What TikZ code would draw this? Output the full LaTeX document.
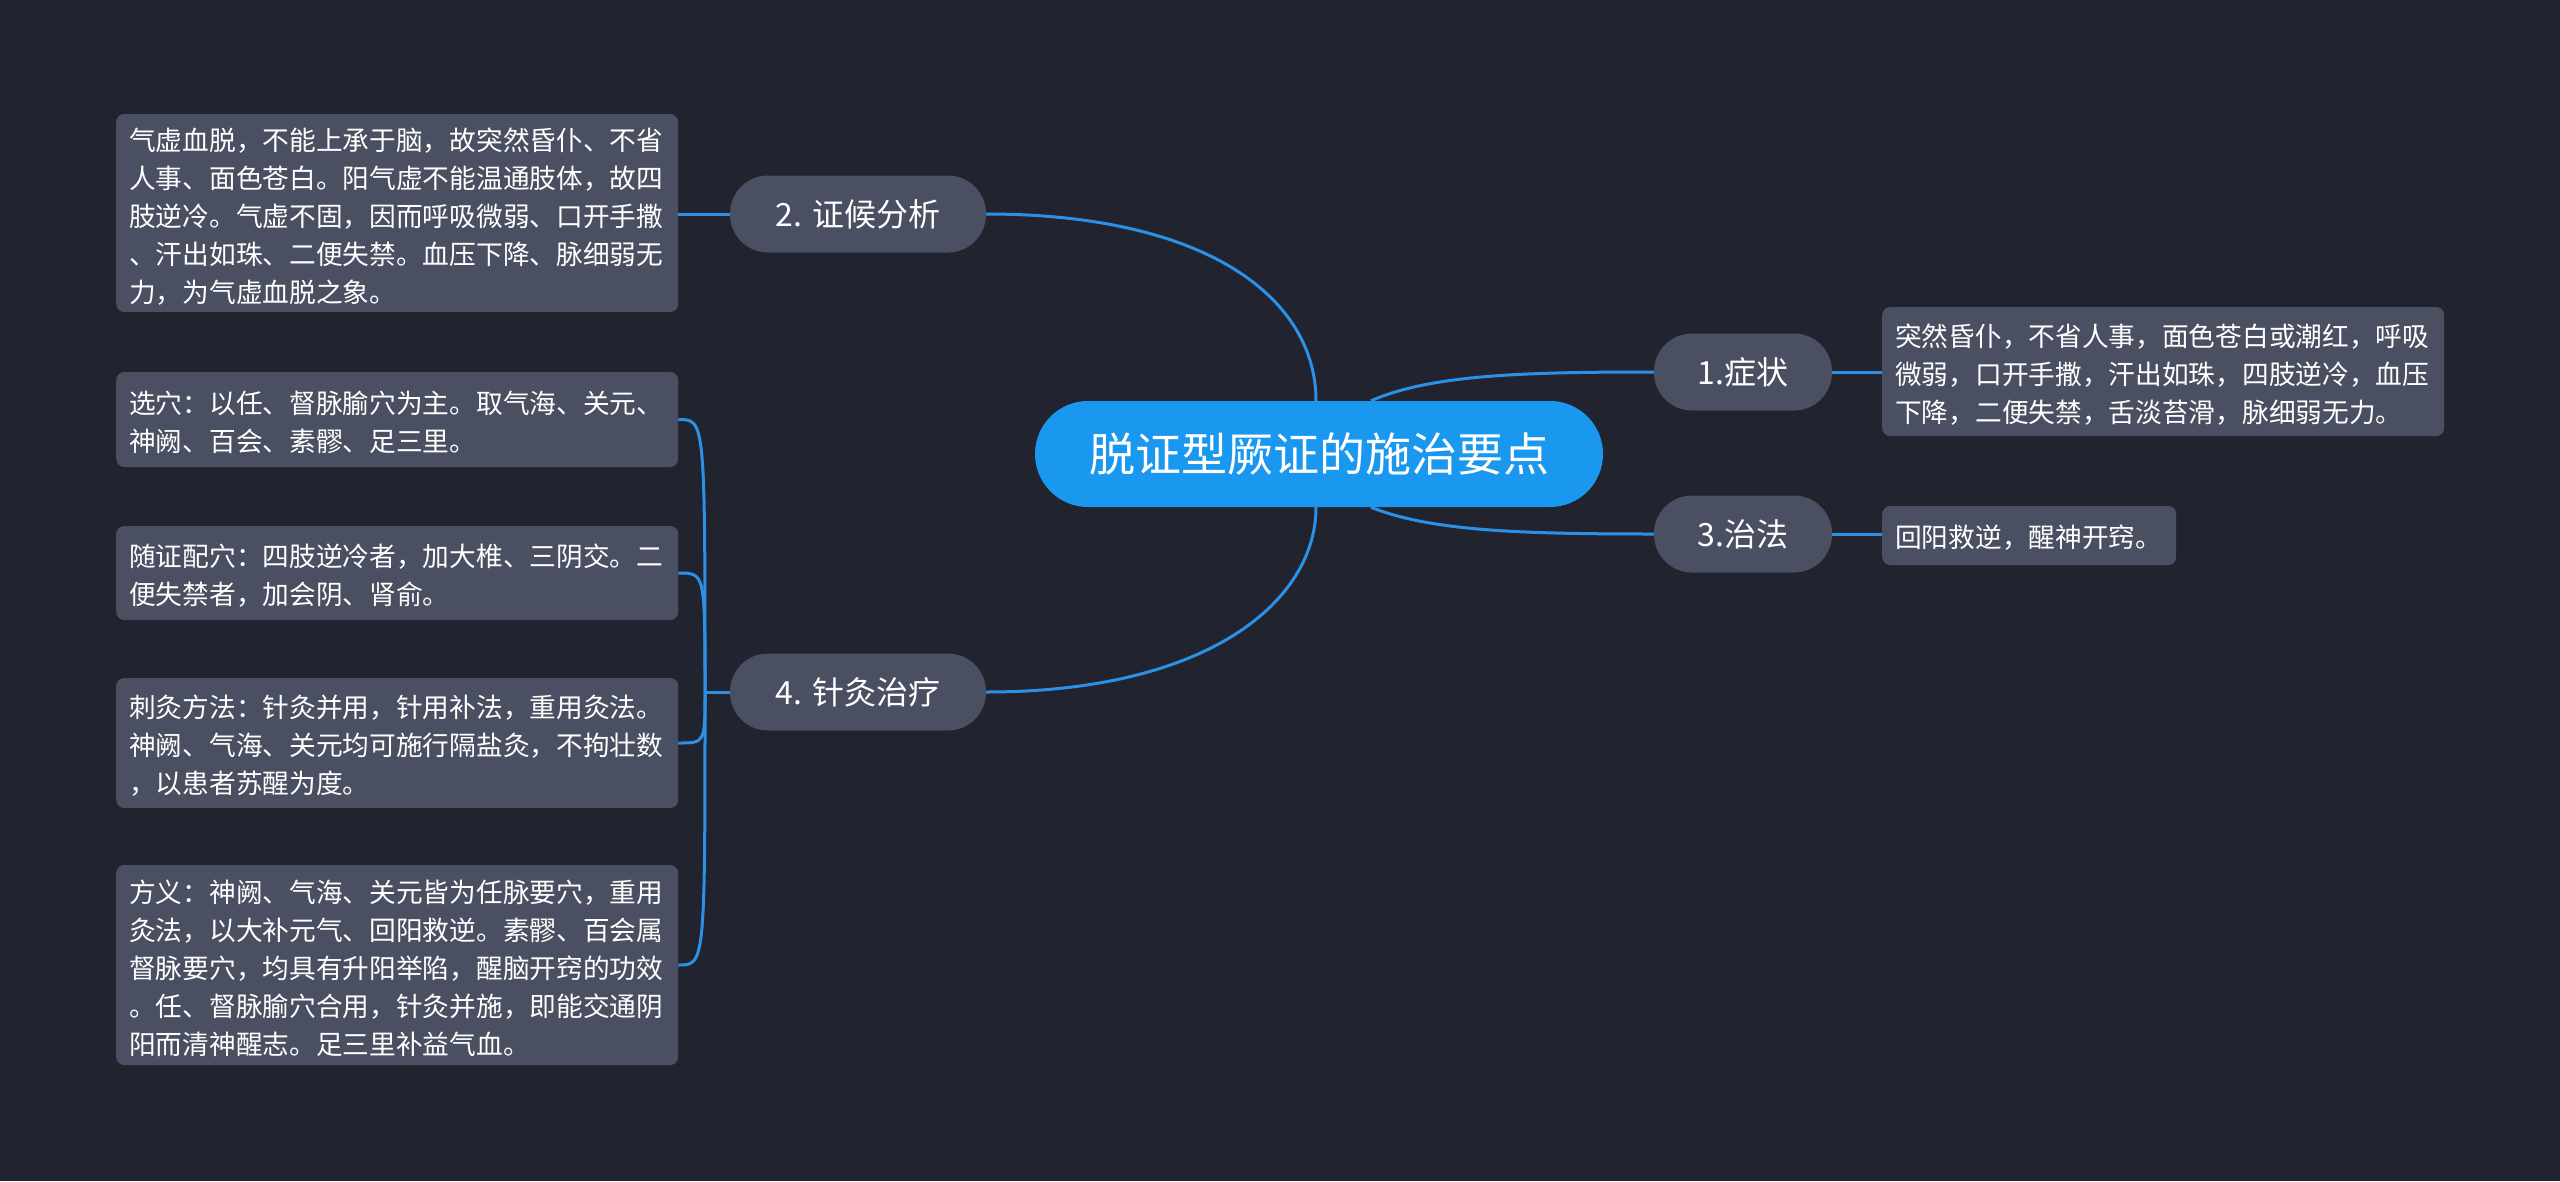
\documentclass[tikz,border=0pt]{standalone}
\usepackage{fontspec}
\setmainfont{Noto Sans CJK SC}
\usetikzlibrary{calc}
\definecolor{bgc}{HTML}{21242F}
\definecolor{nodegray}{HTML}{4A5061}
\definecolor{mainblue}{HTML}{1A98F0}
\definecolor{lineblue}{HTML}{2A91E6}
\begin{document}
\begin{tikzpicture}[x=1pt,y=-1pt,
  mainnode/.style={fill=mainblue, text=white, rounded corners=53pt, minimum width=568pt, minimum height=106pt, inner sep=0pt, font=\fontsize{46}{55}\selectfont},
  topic/.style={fill=nodegray, text=white, rounded corners=38pt, minimum height=77pt, inner sep=0pt, font=\fontsize{32}{38}\selectfont},
  leafbox/.style={fill=nodegray, rounded corners=8pt, inner sep=0pt, anchor=west},
  leaftext/.style={text=white, align=left, inner sep=0pt, anchor=center, font=\fontsize{26.7}{38}\selectfont},
  conn/.style={draw=lineblue, line width=3pt}]
\fill[bgc] (0,0) rectangle (2560,1181);
\useasboundingbox (0,0) rectangle (2560,1181);

\node[mainnode] (c) at (1319,454) {脱证型厥证的施治要点};
\node[topic, minimum width=256pt] (t2) at (858,214) {2. 证候分析};
\node[topic, minimum width=256pt] (t4) at (858,692) {4. 针灸治疗};
\node[topic, minimum width=178pt] (t1) at (1743,372) {1.症状};
\node[topic, minimum width=178pt] (t3) at (1743,534) {3.治法};

\node[leafbox, minimum width=562pt, minimum height=198pt] (l2) at (116,213) {};
\node[leaftext, text width=536pt] (l2x) at ($(l2.center)+(0,4)$) {气虚血脱，不能上承于脑，故突然昏仆、不省\\人事、面色苍白。阳气虚不能温通肢体，故四\\肢逆冷。气虚不固，因而呼吸微弱、口开手撒\\、汗出如珠、二便失禁。血压下降、脉细弱无\\力，为气虚血脱之象。};
\node[leafbox, minimum width=562pt, minimum height=95pt] (l4a) at (116,419.5) {};
\node[leaftext, text width=536pt] (l4ax) at ($(l4a.center)+(0,3)$) {选穴：以任、督脉腧穴为主。取气海、关元、\\神阙、百会、素髎、足三里。};
\node[leafbox, minimum width=562pt, minimum height=94pt] (l4b) at (116,573) {};
\node[leaftext, text width=536pt] (l4bx) at ($(l4b.center)+(0,3)$) {随证配穴：四肢逆冷者，加大椎、三阴交。二\\便失禁者，加会阴、肾俞。};
\node[leafbox, minimum width=562pt, minimum height=130pt] (l4c) at (116,743) {};
\node[leaftext, text width=536pt] (l4cx) at ($(l4c.center)+(0,3)$) {刺灸方法：针灸并用，针用补法，重用灸法。\\神阙、气海、关元均可施行隔盐灸，不拘壮数\\，以患者苏醒为度。};
\node[leafbox, minimum width=562pt, minimum height=200pt] (l4d) at (116,965) {};
\node[leaftext, text width=536pt] (l4dx) at ($(l4d.center)+(0,3)$) {方义：神阙、气海、关元皆为任脉要穴，重用\\灸法，以大补元气、回阳救逆。素髎、百会属\\督脉要穴，均具有升阳举陷，醒脑开窍的功效\\。任、督脉腧穴合用，针灸并施，即能交通阴\\阳而清神醒志。足三里补益气血。};
\node[leafbox, minimum width=562pt, minimum height=129pt] (l1) at (1882,371.5) {};
\node[leaftext, text width=536pt] (l1x) at ($(l1.center)+(0,3)$) {突然昏仆，不省人事，面色苍白或潮红，呼吸\\微弱，口开手撒，汗出如珠，四肢逆冷，血压\\下降，二便失禁，舌淡苔滑，脉细弱无力。};
\node[leafbox, minimum width=294pt, minimum height=59pt] (l3) at (1882,535.5) {};
\node[leaftext, text width=268pt] (l3x) at ($(l3.center)+(0,2)$) {回阳救逆，醒神开窍。};

\coordinate (cn) at ($(c.north)+(-3,0)$);
\coordinate (cs) at ($(c.south)+(-3,0)$);
\coordinate (cne) at ($(c.north)+(52,0)$);
\coordinate (cse) at ($(c.south)+(52,0)$);
\coordinate (j) at (705,692);

\draw[conn] (cn) .. controls (1316,300) and (1210,214) .. (t2.east);
\draw[conn] (cs) .. controls (1316,600) and (1210,692) .. (t4.east);
\draw[conn] (cne) .. controls (1430,375) and (1520,372) .. (t1.west);
\draw[conn] (cse) .. controls (1430,531) and (1520,534) .. (t3.west);

\draw[conn] (t1.east) -- (l1.west |- t1.east);
\draw[conn] (t3.east) -- (l3.west |- t3.east);
\draw[conn] (t2.west) -- (l2.east |- t2.west);

\draw[conn] (t4.west) -- (j);
\draw[conn] (j) .. controls (705,419.5) .. (l4a.east);
\draw[conn] (j) .. controls (705,573) .. (l4b.east);
\draw[conn] (j) .. controls (705,743) .. (l4c.east);
\draw[conn] (j) .. controls (705,965) .. (l4d.east);
\end{tikzpicture}
\end{document}
